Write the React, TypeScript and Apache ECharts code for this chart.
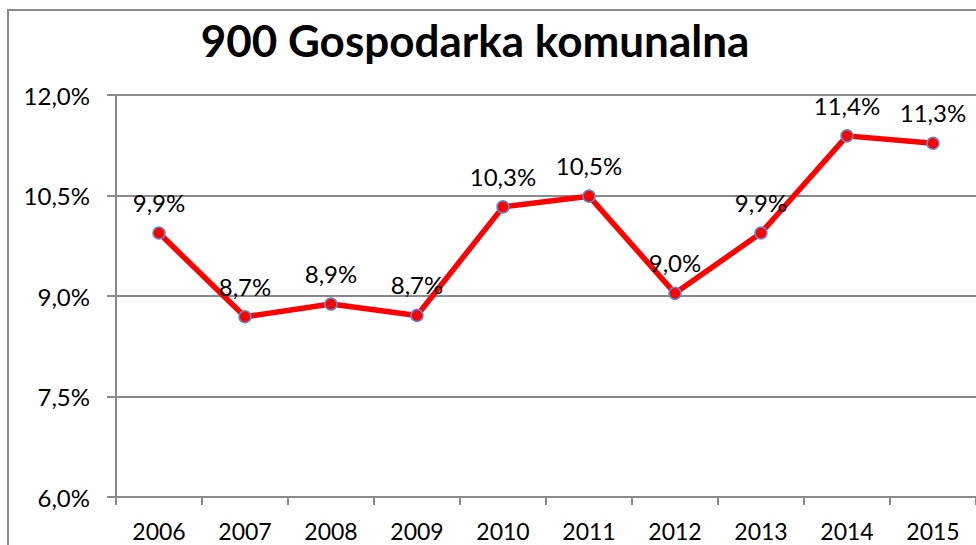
import React, { useEffect, useRef } from "react";
import * as echarts from "echarts";

const categories = ["2006", "2007", "2008", "2009", "2010", "2011", "2012", "2013", "2014", "2015"];
const values = [9.94, 8.69, 8.88, 8.71, 10.33, 10.49, 9.04, 9.94, 11.39, 11.28];
const titleText = "900 Gospodarka komunalna";
const yMin = 6;
const yMax = 12;
const yStep = 1.5;

const fmt = (v: number) => v.toFixed(1).replace(".", ",") + "%";

export default function App() {
  const ref = useRef<HTMLDivElement>(null);
  useEffect(() => {
    if (!ref.current) return;
    const chart = echarts.init(ref.current, null, { renderer: "svg" });
    const font = "Lato, 'Open Sans', sans-serif";
    chart.setOption({
      animation: false,
      backgroundColor: "#ffffff",
      title: {
        text: titleText,
        left: 475,
        top: 18,
        textAlign: "center",
        padding: 0,
        textStyle: { fontFamily: font, fontWeight: "bold", fontSize: 44, color: "#000" },
      },
      graphic: [
        {
          type: "rect",
          shape: { x: 8, y: 10, width: 1000, height: 600 },
          style: { fill: "none", stroke: "#8a8a8a", lineWidth: 2 },
          silent: true,
          z: 100,
        },
      ],
      grid: { left: 116, top: 95, bottom: 48, right: -6, containLabel: false },
      xAxis: {
        type: "category",
        data: categories,
        boundaryGap: true,
        axisLine: { show: true, lineStyle: { color: "#8a8a8a", width: 2 } },
        axisTick: { show: true, length: 8, alignWithLabel: false, lineStyle: { color: "#8a8a8a", width: 2 } },
        axisLabel: { fontFamily: font, fontSize: 23, color: "#000", margin: 22 },
        splitLine: { show: false },
      },
      yAxis: {
        type: "value",
        min: yMin,
        max: yMax,
        interval: yStep,
        axisLine: { show: true, lineStyle: { color: "#8a8a8a", width: 2 } },
        axisTick: { show: true, length: 9, lineStyle: { color: "#8a8a8a", width: 2 } },
        axisLabel: { fontFamily: font, fontSize: 24, color: "#000", margin: 26, formatter: (v: number) => fmt(v) },
        splitLine: { show: true, lineStyle: { color: "#8a8a8a", width: 2 } },
      },
      series: [
        {
          type: "line",
          data: values,
          lineStyle: { color: "#ff0000", width: 5.5 },
          symbol: "circle",
          symbolSize: 12,
          itemStyle: { color: "#ff0000", borderColor: "#5b8ed1", borderWidth: 1.5 },
          label: {
            show: true,
            position: "top",
            distance: 12,
            fontFamily: font,
            fontSize: 24,
            color: "#000",
            formatter: (p: any) => fmt(p.value),
          },
          z: 3,
        },
      ],
    });
    return () => chart.dispose();
  }, []);
  return <div ref={ref} style={{ position: "fixed", left: 0, top: 0, width: 976, height: 545 }} />;
}
